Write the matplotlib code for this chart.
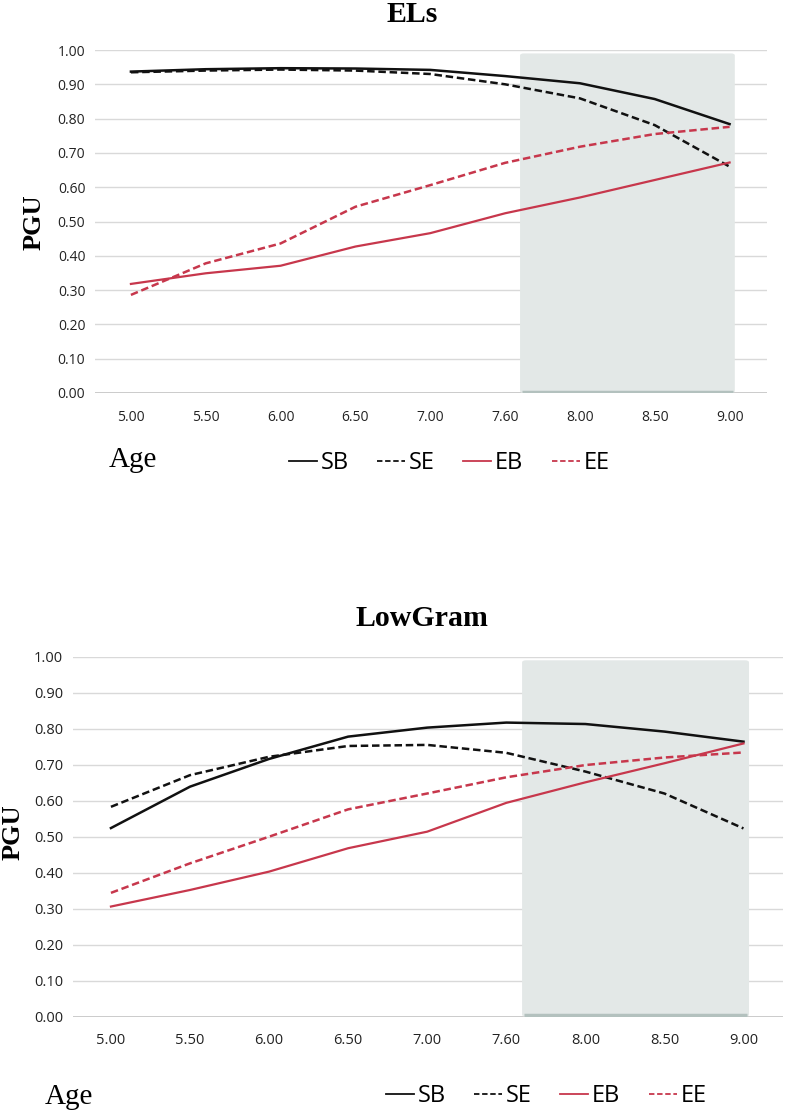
import matplotlib
matplotlib.use("Agg")
import matplotlib.pyplot as plt
from matplotlib.patches import FancyBboxPatch
from matplotlib.lines import Line2D

ages = ["5.00", "5.50", "6.00", "6.50", "7.00", "7.60", "8.00", "8.50", "9.00"]

# ELs panel
els_sb = [0.937, 0.944, 0.947, 0.946, 0.942, 0.924, 0.903, 0.857, 0.784]
els_se = [0.935, 0.940, 0.943, 0.940, 0.930, 0.900, 0.859, 0.781, 0.660]
els_eb = [0.318, 0.349, 0.371, 0.427, 0.466, 0.524, 0.570, 0.621, 0.672]
els_ee = [0.286, 0.378, 0.436, 0.543, 0.606, 0.671, 0.718, 0.755, 0.776]

# LowGram panel
low_sb = [0.524, 0.639, 0.716, 0.778, 0.803, 0.817, 0.813, 0.792, 0.764]
low_se = [0.583, 0.671, 0.722, 0.752, 0.755, 0.733, 0.681, 0.620, 0.523]
low_eb = [0.306, 0.352, 0.403, 0.468, 0.514, 0.594, 0.651, 0.704, 0.759]
low_ee = [0.344, 0.426, 0.500, 0.576, 0.620, 0.665, 0.699, 0.720, 0.734]

series_names = ["SB", "SE", "EB", "EE"]
shade_start, shade_end, shade_top = 5.2, 8.07, 0.99

BLACK = "#111111"
RED = "#c7374c"
styles = [
    dict(color=BLACK, lw=1.8, ls="-"),
    dict(color=BLACK, lw=1.8, ls=(0, (3, 1.5))),
    dict(color=RED, lw=1.6, ls="-"),
    dict(color=RED, lw=1.8, ls=(0, (3, 1.5))),
]

W, H = 787, 1112
fig = plt.figure(figsize=(W / 100, H / 100), dpi=100)


def make_panel(rect, data, title, title_xy, title_size, pgu_xy, age_xy, leg_xy, tick_size):
    ax = fig.add_axes(rect)
    x = list(range(len(ages)))
    ax.set_xlim(-0.48, 8.5)
    ax.set_ylim(0, 1.0)
    ax.set_yticks([i / 10 for i in range(11)])
    ax.set_yticklabels([f"{i / 10:.2f}" for i in range(11)])
    ax.set_xticks(x)
    ax.set_xticklabels(ages)
    for s in ax.spines.values():
        s.set_visible(False)
    ax.grid(axis="y", color="#d9d9d9", lw=1.0, zorder=0)
    ax.set_axisbelow(True)
    ax.axhline(0, color="#c4c4c4", lw=1.2, zorder=1)
    ax.tick_params(length=0, labelsize=tick_size, colors="#222222")
    ax.tick_params(axis="x", pad=12)
    ax.tick_params(axis="y", pad=7)
    for lab in ax.get_xticklabels() + ax.get_yticklabels():
        lab.set_fontfamily("Open Sans")

    shade = FancyBboxPatch((shade_start, 0), shade_end - shade_start, shade_top,
                           boxstyle="round,pad=0,rounding_size=0.05",
                           mutation_aspect=0.12,
                           facecolor="#e3e8e7", edgecolor="none", zorder=1)
    ax.add_patch(shade)
    ax.plot([shade_start + 0.02, shade_end - 0.02], [0.004, 0.004],
            color="#b3c1be", lw=2.5, zorder=1.5, solid_capstyle="butt")

    for ys, st, name in zip(data, styles, series_names):
        ax.plot(x, ys, zorder=3, label=name, **st)

    fig.text(title_xy[0] / W, 1 - title_xy[1] / H, title, ha="center", va="center",
             family="Liberation Serif", weight="bold", fontsize=title_size)
    fig.text(pgu_xy[0] / W, 1 - pgu_xy[1] / H, "PGU", ha="center", va="center",
             rotation=90, family="Liberation Serif", weight="bold", fontsize=19)
    fig.text(age_xy[0] / W, 1 - age_xy[1] / H, "Age", ha="center", va="center",
             family="Liberation Serif", fontsize=21)

    handles = [Line2D([], [], **st) for st in styles]
    for h in handles:
        h.set_linewidth(1.3)
    fig.legend(handles, series_names, loc="center",
               bbox_to_anchor=(leg_xy[0] / W, 1 - leg_xy[1] / H),
               ncol=4, frameon=False, handlelength=1.2, handletextpad=0.15,
               columnspacing=1.2, prop={"family": "Open Sans", "size": 17})
    return ax


make_panel([95 / W, 1 - 393 / H, 672 / W, 343 / H],
           [els_sb, els_se, els_eb, els_ee], "ELs",
           (412, 14), 21.5, (34, 222), (133, 460), (449, 463), 10)
make_panel([73 / W, 1 - 1016.7 / H, 710 / W, 360 / H],
           [low_sb, low_se, low_eb, low_ee], "LowGram",
           (422, 619), 21.5, (13, 832), (69, 1097), (546, 1096), 10.5)

fig.savefig("out.png", dpi=100)
